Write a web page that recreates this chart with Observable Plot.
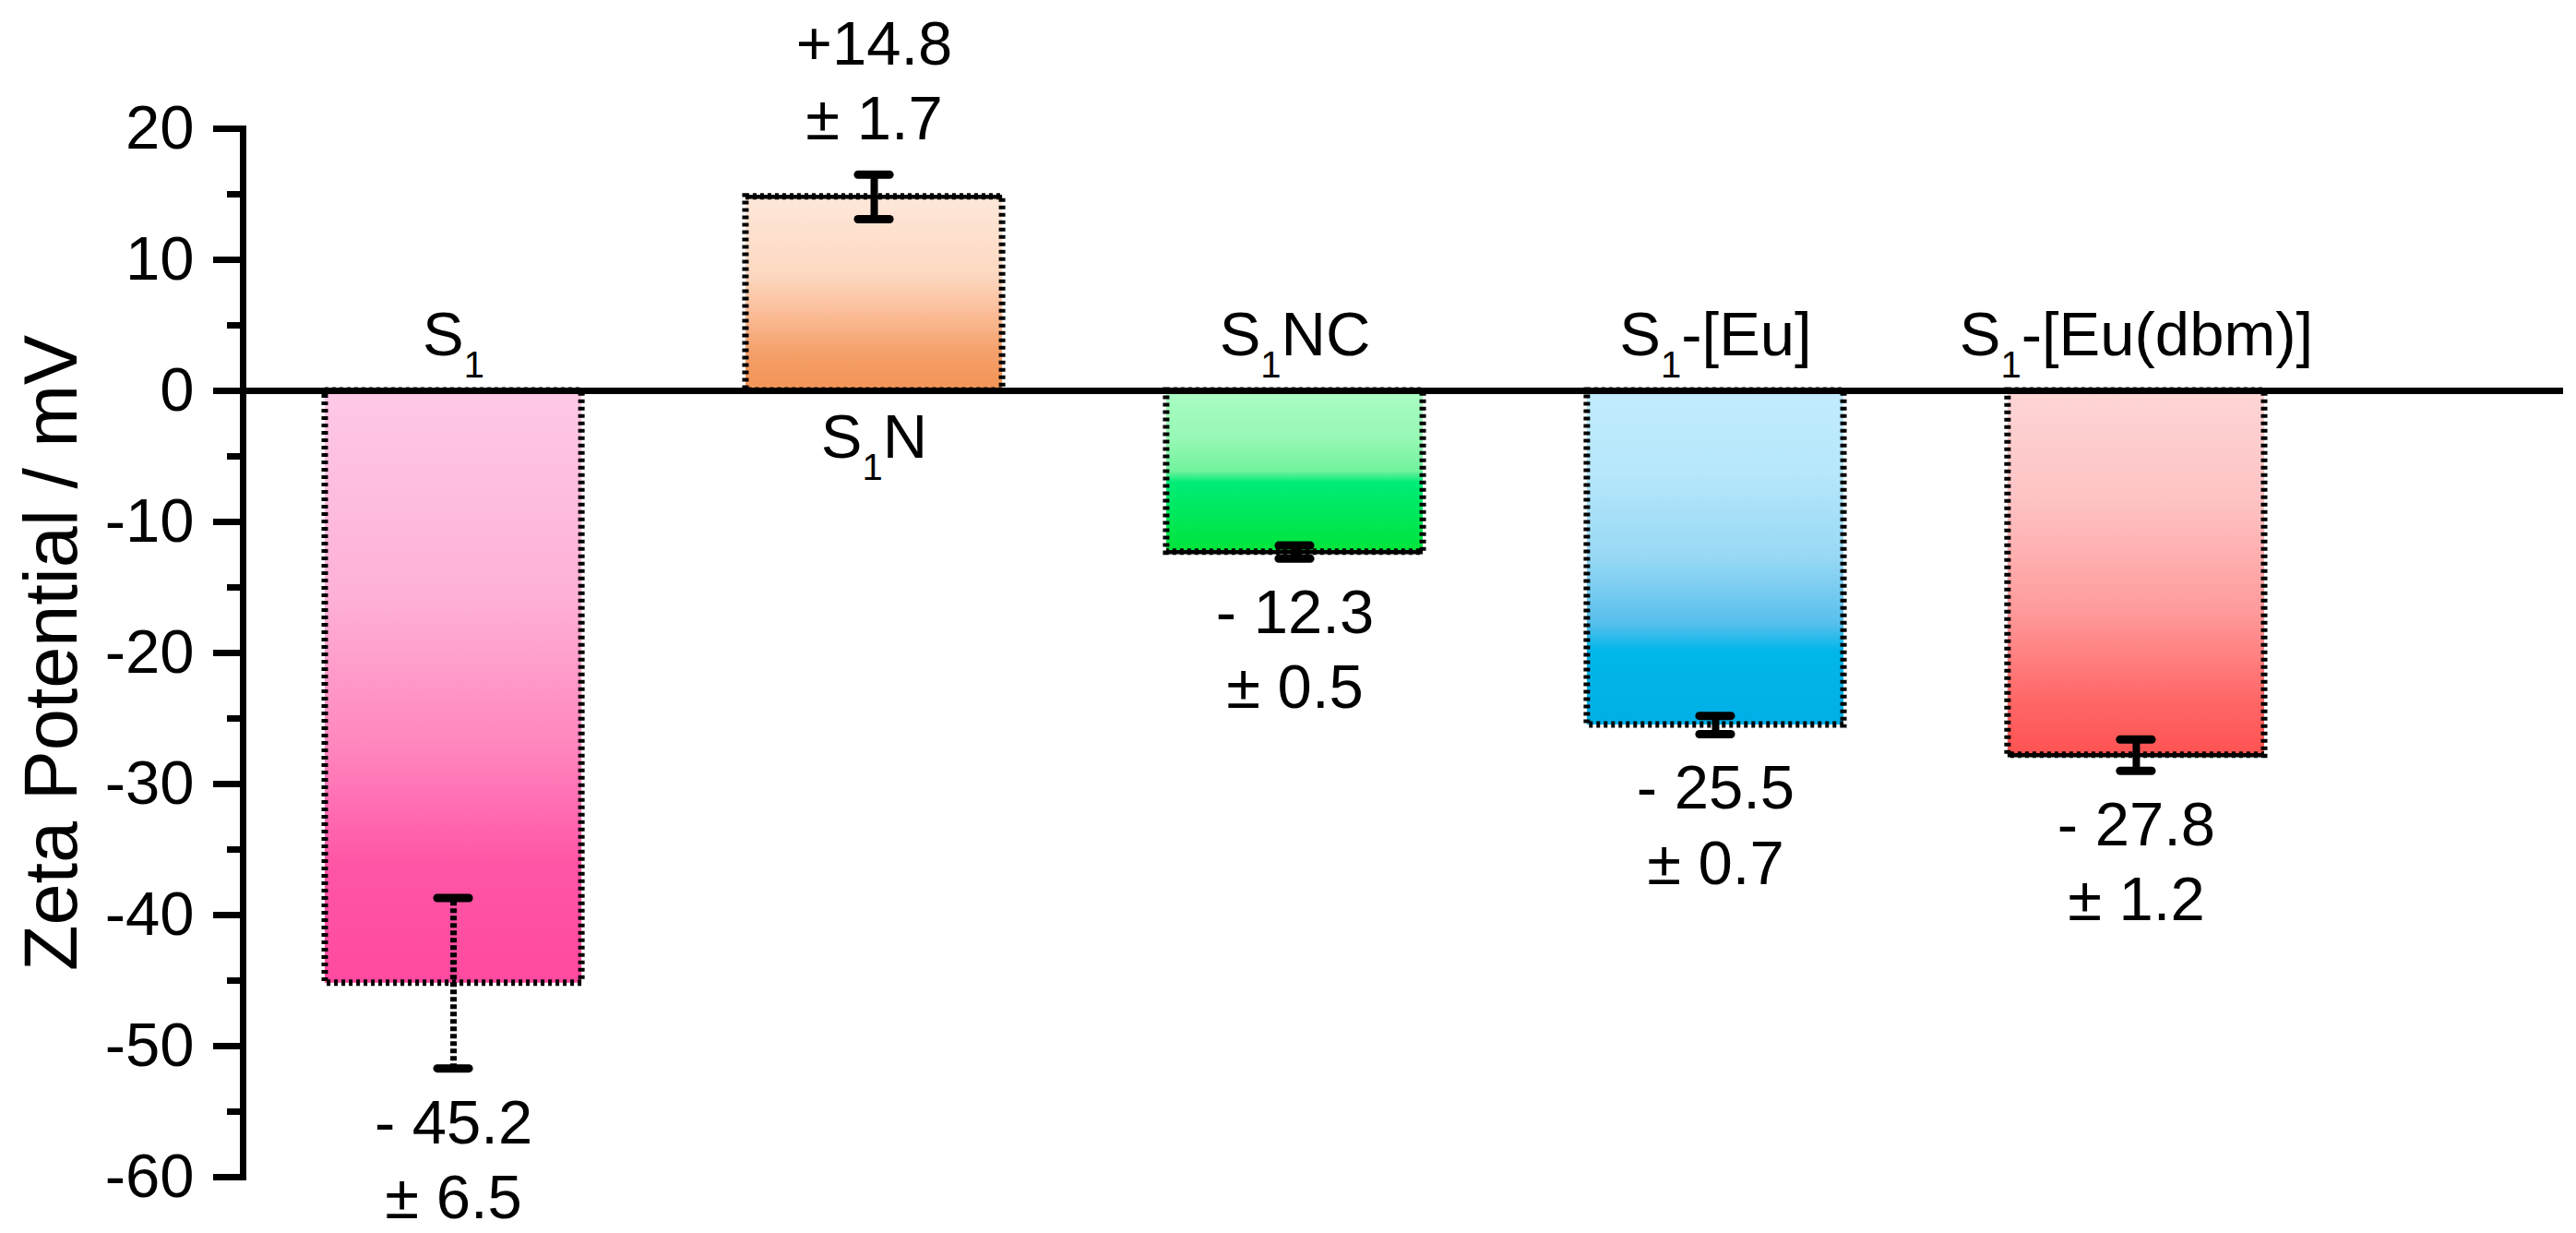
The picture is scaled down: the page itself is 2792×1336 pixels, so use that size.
<!DOCTYPE html>
<html>
<head>
<meta charset="utf-8">
<script src="https://cdn.jsdelivr.net/npm/d3@7"></script>
<script src="https://cdn.jsdelivr.net/npm/@observablehq/plot@0.6"></script>
<style>
  html, body { margin: 0; padding: 0; background: #fff; }
  svg { display: block; }
</style>
</head>
<body>
<div id="chart"></div>
<script>
// ---- data ----
const categories = ["S1", "S1N", "S1NC", "S1-[Eu]", "S1-[Eu(dbm)]"];
const zeta = [-45.2, 14.8, -12.3, -25.5, -27.8];
const errors = [6.5, 1.7, 0.5, 0.7, 1.2];
const yTicks = [-60, -50, -40, -30, -20, -10, 0, 10, 20];
const yMinorTicks = [-55, -45, -35, -25, -15, -5, 5, 15];
const yLabel = "Zeta Potential / mV";

// ---- styles ----
const gradientStops = [
  [[0, "#FEC9E5"], [0.35, "#FEB0D5"], [0.6, "#FF86BE"], [0.8, "#FF55A6"], [1, "#FF4A9F"]],
  [[0, "#FEE8DA"], [0.4, "#FDD8C1"], [0.6, "#FBBD98"], [0.8, "#F5A06A"], [1, "#F39455"]],
  [[0, "#ABFCC4"], [0.3, "#96F8B4"], [0.5, "#72F29E"], [0.57, "#00EC78"], [1, "#00E43A"]],
  [[0, "#C1ECFD"], [0.25, "#B6E7FB"], [0.5, "#98D8F5"], [0.7, "#55BFEC"], [0.78, "#00B6EA"], [1, "#00B0E7"]],
  [[0, "#FED5D6"], [0.3, "#FEC3C4"], [0.6, "#FF9B9C"], [0.85, "#FF6767"], [1, "#FF5252"]]
];
const solidEdge = ["S1N", "S1NC", "S1-[Eu(dbm)]"];
const dashedErr = ["S1"];

const data = categories.map((name, i) => ({
  name, value: zeta[i], err: errors[i], grad: `url(#grad${i})`
}));
const neg = data.filter(d => d.value < 0);
const pos = data.filter(d => d.value >= 0);
const fmt = d => (d.value < 0 ? "- " + Math.abs(d.value).toFixed(1) : "+" + d.value.toFixed(1)) + "\n\u00B1 " + d.err.toFixed(1);

const capInset = 122;

const svg = Plot.plot({
  width: 2792,
  height: 1336,
  marginTop: 139,
  marginBottom: 61,
  marginLeft: 263,
  marginRight: 14,
  style: {fontFamily: "Arial, 'Liberation Sans', sans-serif", fontSize: "67px", color: "black", background: "white"},
  x: {domain: categories, range: [352, 2454], paddingInner: 0.39, paddingOuter: 0, round: false, axis: null},
  y: {domain: [-60, 20], label: null, axis: null},
  marks: [
    ...data.map(d => Plot.barY([d], {
      x: "name", y: "value", fill: d.grad,
      stroke: "black", strokeWidth: 7, strokeDasharray: "4,4"
    })),
    Plot.tickY(data.filter(d => solidEdge.includes(d.name)), {
      x: "name", y: "value", stroke: "black", strokeWidth: 4.5
    }),
    Plot.ruleY([0], {stroke: "black", strokeWidth: 7}),
    // error bars
    Plot.ruleX(data.filter(d => dashedErr.includes(d.name)), {
      x: "name", y1: d => d.value - d.err, y2: d => d.value + d.err,
      stroke: "black", strokeWidth: 7, strokeDasharray: "5,3"
    }),
    Plot.ruleX(data.filter(d => !dashedErr.includes(d.name)), {
      x: "name", y1: d => d.value - d.err, y2: d => d.value + d.err,
      stroke: "black", strokeWidth: 8
    }),
    Plot.tickY(data, {
      x: "name", y: d => d.value - d.err, stroke: "black", strokeWidth: 9,
      strokeLinecap: "round", insetLeft: capInset, insetRight: capInset
    }),
    Plot.tickY(data, {
      x: "name", y: d => d.value + d.err, stroke: "black", strokeWidth: 9,
      strokeLinecap: "round", insetLeft: capInset, insetRight: capInset
    }),
    // category labels
    Plot.text(neg, {x: "name", y: () => 0, text: "name", lineAnchor: "bottom", dy: -39, fontSize: 67}),
    Plot.text(pos, {x: "name", y: () => 0, text: "name", lineAnchor: "bottom", dy: 72, fontSize: 67}),
    // value labels
    Plot.text(neg, {x: "name", y: d => d.value - d.err, text: fmt, lineAnchor: "bottom", lineHeight: 1.21, dy: 162, fontSize: 67}),
    Plot.text(pos, {x: "name", y: d => d.value + d.err, text: fmt, lineAnchor: "bottom", lineHeight: 1.21, dy: -38, fontSize: 67}),
    // y axis
    Plot.axisY({ticks: yTicks, tickSize: 32, tickPadding: 21, strokeWidth: 7, fontSize: 67, label: null, tickFormat: d => String(d)}),
    Plot.axisY({ticks: yMinorTicks, tickSize: 17, strokeWidth: 7, tickFormat: () => "", label: null}),
    Plot.frame({anchor: "left", stroke: "black", strokeWidth: 7, strokeLinecap: "square"}),
    Plot.text([yLabel], {frameAnchor: "left", rotate: -90, dx: -181, textAnchor: "middle", lineAnchor: "bottom", fontSize: 81, text: d => d})
  ]
});

// gradients
const ns = "http://www.w3.org/2000/svg";
const defs = document.createElementNS(ns, "defs");
gradientStops.forEach((stops, i) => {
  const g = document.createElementNS(ns, "linearGradient");
  g.setAttribute("id", `grad${i}`);
  g.setAttribute("x1", "0"); g.setAttribute("y1", "0");
  g.setAttribute("x2", "0"); g.setAttribute("y2", "1");
  stops.forEach(([o, c]) => {
    const s = document.createElementNS(ns, "stop");
    s.setAttribute("offset", o);
    s.setAttribute("stop-color", c);
    g.appendChild(s);
  });
  defs.appendChild(g);
});
svg.insertBefore(defs, svg.firstChild);

// subscripts in category labels
svg.querySelectorAll("text").forEach(t => {
  const s = t.textContent;
  if (categories.includes(s) && t.children.length === 0) {
    t.textContent = "";
    const mk = (txt, attrs = {}) => {
      const ts = document.createElementNS(ns, "tspan");
      ts.textContent = txt;
      for (const k in attrs) ts.setAttribute(k, attrs[k]);
      t.appendChild(ts);
    };
    mk("S");
    mk("1", {dy: 24, "font-size": 40});
    if (s.length > 2) mk(s.slice(2), {dy: -24});
  }
});

document.getElementById("chart").appendChild(svg);
</script>
</body>
</html>
